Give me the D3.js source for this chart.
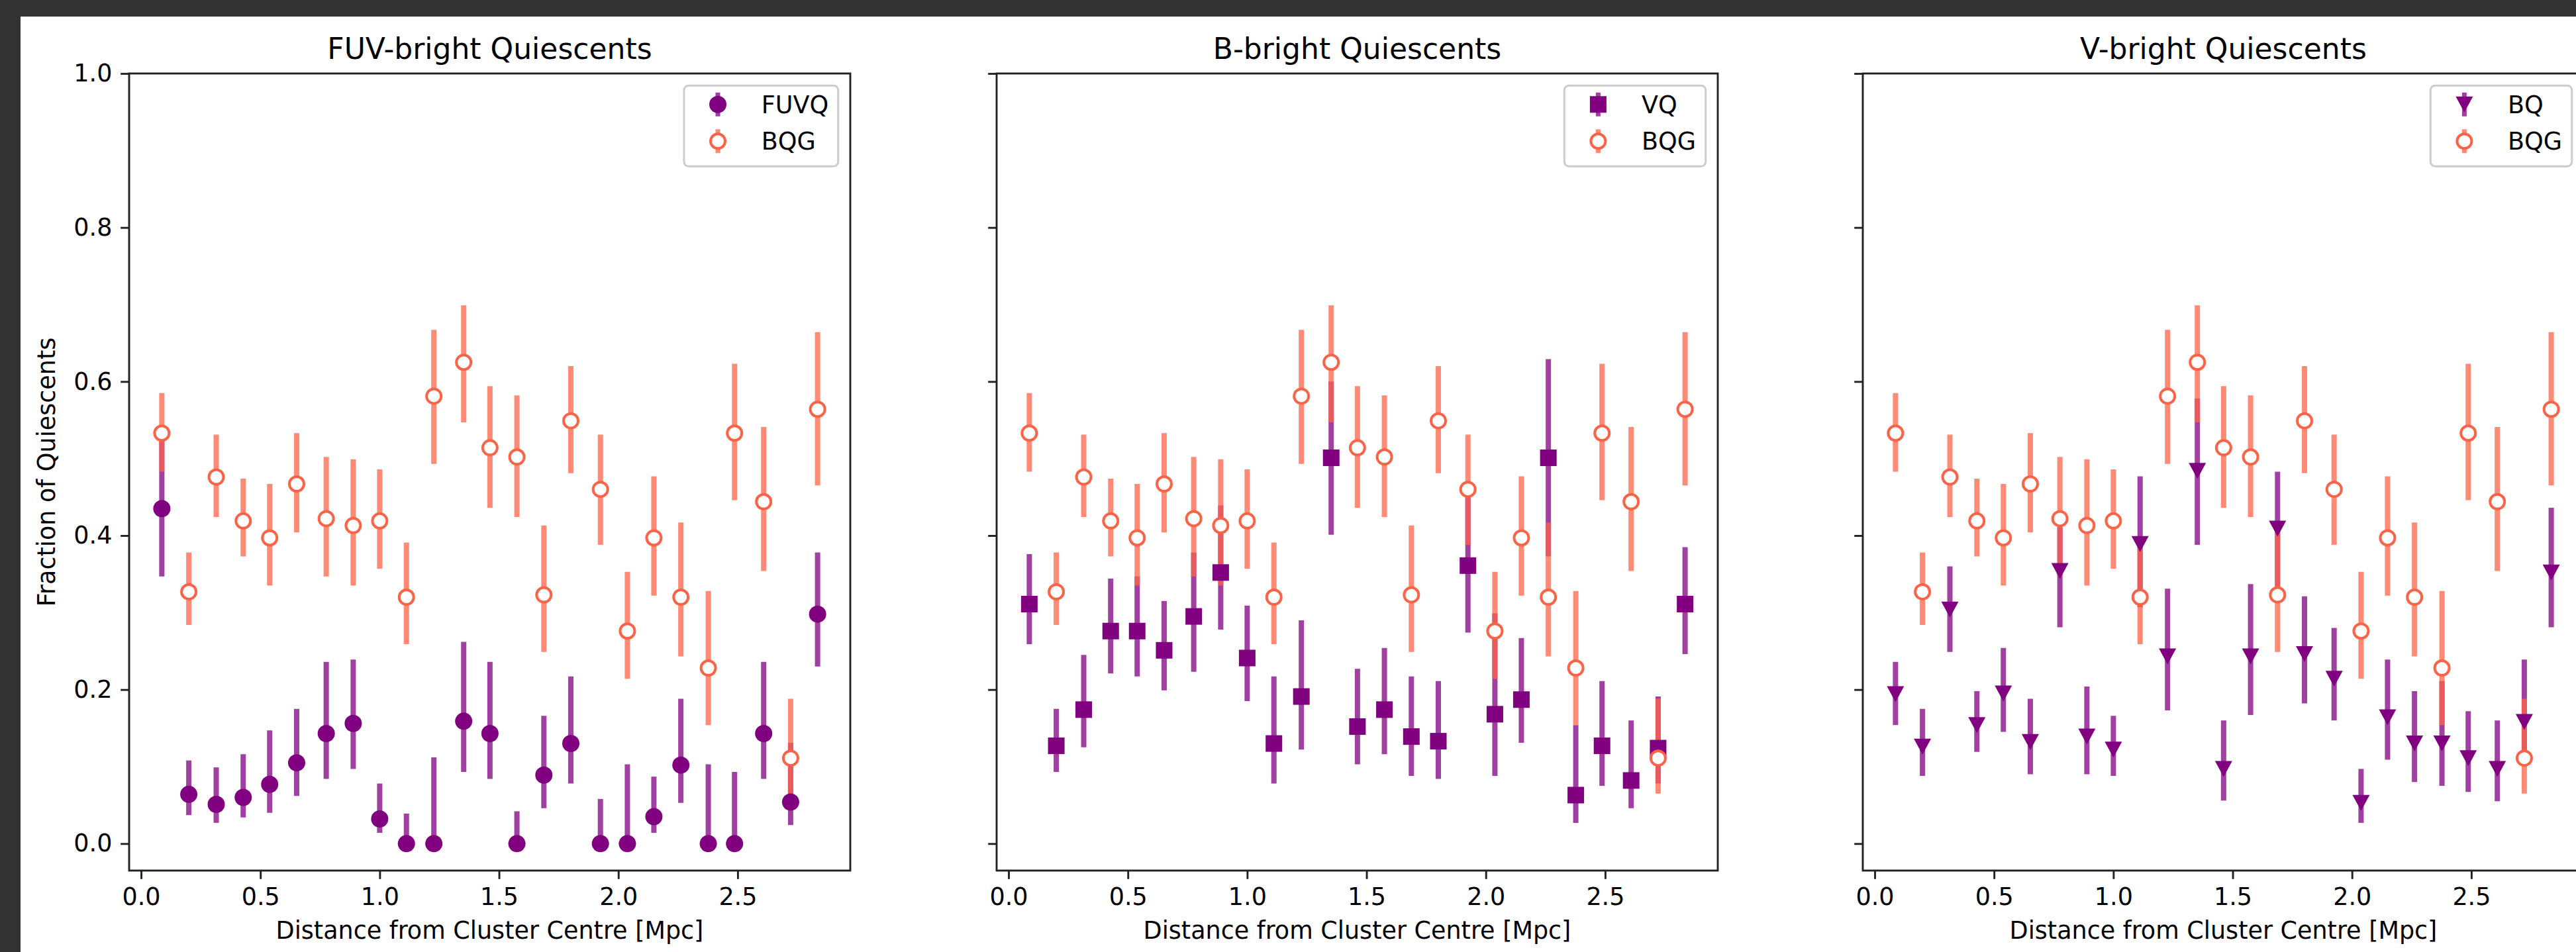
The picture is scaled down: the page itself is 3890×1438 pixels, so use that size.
<!DOCTYPE html>
<html>
<head>
<meta charset="utf-8">
<script src="https://cdn.jsdelivr.net/npm/d3@7"></script>
<style>
  html, body { margin: 0; padding: 0; background: #333; }
  svg { display: block; font-family: "DejaVu Sans", sans-serif; }
</style>
</head>
<body>
<svg id="chart"></svg>
<script>
// distance bins (Mpc), shared by every series
const distance = [0.087, 0.200, 0.315, 0.428, 0.539, 0.652, 0.776, 0.889, 1.000, 1.112,
  1.227, 1.352, 1.462, 1.575, 1.688, 1.801, 1.925, 2.038, 2.149, 2.262,
  2.377, 2.487, 2.609, 2.722, 2.835];

// BQG (same in all three panels): value, lower end, upper end of the bar
const bqg = [0.533, 0.327, 0.476, 0.419, 0.397, 0.467, 0.422, 0.413, 0.419, 0.320,
  0.581, 0.625, 0.514, 0.502, 0.323, 0.549, 0.460, 0.276, 0.397, 0.320,
  0.228, 0.533, 0.444, 0.111, 0.564];
const bqgLo = [0.483, 0.284, 0.424, 0.373, 0.335, 0.404, 0.347, 0.335, 0.357, 0.259,
  0.493, 0.547, 0.436, 0.424, 0.249, 0.481, 0.388, 0.214, 0.322, 0.243,
  0.154, 0.446, 0.354, 0.065, 0.465];
const bqgHi = [0.585, 0.378, 0.531, 0.474, 0.467, 0.533, 0.502, 0.499, 0.486, 0.391,
  0.667, 0.699, 0.594, 0.582, 0.413, 0.620, 0.531, 0.353, 0.477, 0.417,
  0.328, 0.623, 0.541, 0.188, 0.664];

// FUVQ
const fuvq = [0.435, 0.064, 0.051, 0.060, 0.077, 0.105, 0.143, 0.156, 0.032, 0.0,
  0.0, 0.159, 0.143, 0.0, 0.089, 0.130, 0.0, 0.0, 0.035, 0.102,
  0.0, 0.0, 0.143, 0.054, 0.298];
const fuvqLo = [0.347, 0.037, 0.027, 0.034, 0.040, 0.062, 0.084, 0.097, 0.014, 0.0,
  0.0, 0.093, 0.084, 0.0, 0.046, 0.078, 0.0, 0.0, 0.014, 0.053,
  0.0, 0.0, 0.084, 0.024, 0.230];
const fuvqHi = [0.525, 0.108, 0.099, 0.116, 0.147, 0.175, 0.236, 0.239, 0.078, 0.039,
  0.112, 0.262, 0.236, 0.042, 0.166, 0.217, 0.058, 0.103, 0.087, 0.188,
  0.103, 0.093, 0.236, 0.131, 0.378];

// VQ
const vq = [0.311, 0.127, 0.174, 0.276, 0.276, 0.251, 0.295, 0.352, 0.241, 0.130,
  0.191, 0.501, 0.152, 0.174, 0.139, 0.133, 0.361, 0.168, 0.187, 0.501,
  0.063, 0.127, 0.082, 0.124, 0.311];
const vqLo = [0.259, 0.093, 0.125, 0.221, 0.217, 0.199, 0.223, 0.278, 0.185, 0.078,
  0.122, 0.401, 0.103, 0.116, 0.088, 0.084, 0.274, 0.088, 0.131, 0.373,
  0.027, 0.075, 0.046, 0.078, 0.246];
const vqHi = [0.376, 0.175, 0.245, 0.344, 0.347, 0.315, 0.378, 0.439, 0.309, 0.217,
  0.290, 0.600, 0.227, 0.254, 0.217, 0.211, 0.450, 0.299, 0.267, 0.629,
  0.154, 0.211, 0.160, 0.191, 0.385];

// BQ
const bq = [0.194, 0.126, 0.304, 0.154, 0.195, 0.132, 0.354, 0.139, 0.122, 0.389,
  0.243, 0.484, 0.097, 0.243, 0.409, 0.246, 0.214, 0.053, 0.164, 0.130,
  0.130, 0.111, 0.097, 0.158, 0.352];
const bqLo = [0.154, 0.088, 0.249, 0.119, 0.145, 0.090, 0.281, 0.090, 0.088, 0.307,
  0.173, 0.388, 0.056, 0.167, 0.333, 0.182, 0.160, 0.027, 0.109, 0.080,
  0.075, 0.067, 0.055, 0.121, 0.281];
const bqHi = [0.236, 0.175, 0.360, 0.198, 0.254, 0.188, 0.411, 0.204, 0.166, 0.477,
  0.331, 0.578, 0.160, 0.337, 0.483, 0.321, 0.280, 0.097, 0.239, 0.198,
  0.211, 0.172, 0.160, 0.239, 0.436];

const titles = ["FUV-bright Quiescents", "B-bright Quiescents", "V-bright Quiescents"];
const labels = ["FUVQ", "VQ", "BQ"];
const xTicks = [0.0, 0.5, 1.0, 1.5, 2.0, 2.5];
const yTicks = [0.0, 0.2, 0.4, 0.6, 0.8, 1.0];

const panels = [
  { title: titles[0], label: labels[0], shape: "circle", v: fuvq, lo: fuvqLo, hi: fuvqHi },
  { title: titles[1], label: labels[1], shape: "square", v: vq, lo: vqLo, hi: vqHi },
  { title: titles[2], label: labels[2], shape: "triangle", v: bq, lo: bqLo, hi: bqHi },
];

const width = 3890;
const height = 1438;
const svg = d3.select("#chart").attr("width", width).attr("height", height);

// notebook frame
svg.append("rect").attr("width", width).attr("height", height).attr("fill", "#333");
svg.append("rect").attr("x", 31).attr("y", 25)
  .attr("width", width - 31).attr("height", height - 25).attr("fill", "#fff");

const axW = 1089, axTop = 111, axBottom = 1315;
const panelLeft = [195, 1505, 2813];
const em = 36.5; // 10pt at this scale
const PURPLE = "#800080", TOMATO = "#ff6347", INK = "#222";

const y = d3.scaleLinear().domain([-0.035, 1.0]).range([axBottom, axTop]);

function marker(sel, shape, cx, cy) {
  if (shape === "circle") {
    sel.append("circle").attr("cx", cx).attr("cy", cy).attr("r", 13).attr("fill", PURPLE);
  } else if (shape === "square") {
    sel.append("rect").attr("x", cx - 12.5).attr("y", cy - 12.5)
      .attr("width", 25).attr("height", 25).attr("fill", PURPLE);
  } else if (shape === "triangle") {
    sel.append("path").attr("d", `M${cx - 13},${cy - 12}L${cx + 13},${cy - 12}L${cx},${cy + 12}Z`)
      .attr("fill", PURPLE);
  } else {
    sel.append("circle").attr("cx", cx).attr("cy", cy).attr("r", 11)
      .attr("fill", "#fff").attr("stroke", TOMATO).attr("stroke-width", 4);
  }
}

panels.forEach((p, i) => {
  const left = panelLeft[i];
  const x = d3.scaleLinear().domain([-0.05, 2.972]).range([left, left + axW]);
  const g = svg.append("g");

  // error bars: quiescent series first, BQG on top
  g.append("g").selectAll("line")
    .data(distance)
    .join("line")
    .attr("x1", (d) => x(d)).attr("x2", (d) => x(d))
    .attr("y1", (d, k) => y(p.lo[k])).attr("y2", (d, k) => y(p.hi[k]))
    .attr("stroke", PURPLE).attr("stroke-opacity", 0.75).attr("stroke-width", 8);

  g.append("g").selectAll("line")
    .data(distance)
    .join("line")
    .attr("x1", (d) => x(d)).attr("x2", (d) => x(d))
    .attr("y1", (d, k) => y(bqgLo[k])).attr("y2", (d, k) => y(bqgHi[k]))
    .attr("stroke", TOMATO).attr("stroke-opacity", 0.75).attr("stroke-width", 8);

  const mq = g.append("g");
  distance.forEach((d, k) => marker(mq, p.shape, x(d), y(p.v[k])));
  const mb = g.append("g");
  distance.forEach((d, k) => marker(mb, "open", x(d), y(bqg[k])));

  // axes
  const xAxis = g.append("g")
    .attr("transform", `translate(0,${axBottom})`)
    .call(d3.axisBottom(x).tickValues(xTicks).tickFormat(d3.format(".1f"))
      .tickSize(12.8).tickPadding(12.8));
  const yAxis = g.append("g")
    .attr("transform", `translate(${left},0)`)
    .call(d3.axisLeft(y).tickValues(yTicks)
      .tickFormat(i === 0 ? d3.format(".1f") : () => "")
      .tickSize(12.8).tickPadding(12.8));
  [xAxis, yAxis].forEach((a) => {
    a.select(".domain").remove();
    a.selectAll(".tick line").attr("stroke", INK).attr("stroke-width", 2.9);
    a.selectAll(".tick text").attr("fill", "#000")
      .style("font-family", "DejaVu Sans").style("font-size", em + "px");
  });

  // spines
  g.append("rect")
    .attr("x", left).attr("y", axTop)
    .attr("width", axW).attr("height", axBottom - axTop)
    .attr("fill", "none").attr("stroke", INK).attr("stroke-width", 2.9);

  // title + x label
  g.append("text")
    .attr("x", left + axW / 2).attr("y", axTop - 22)
    .attr("text-anchor", "middle").attr("font-size", 44).attr("fill", "#000")
    .text(p.title);
  g.append("text")
    .attr("x", left + axW / 2).attr("y", 1418)
    .attr("text-anchor", "middle").attr("font-size", em).attr("fill", "#000")
    .text("Distance from Cluster Centre [Mpc]");

  if (i === 0) {
    g.append("text")
      .attr("transform", `translate(83,${(axTop + axBottom) / 2}) rotate(-90)`)
      .attr("text-anchor", "middle").attr("font-size", em).attr("fill", "#000")
      .text("Fraction of Quiescents");
  }

  // legend
  const entries = [{ label: p.label, shape: p.shape, color: PURPLE },
                   { label: "BQG", shape: "open", color: TOMATO }];
  const lg = g.append("g");
  const frame = lg.append("rect");
  const texts = entries.map((e) => lg.append("text")
    .attr("font-size", em).attr("fill", "#000").attr("dy", "0.35em").text(e.label));
  const textW = d3.max(texts, (t) => t.node().getComputedTextLength());
  const boxW = 2 * 0.4 * em + 2 * em + 0.8 * em + textW;
  const boxH = 122;
  const bx = left + axW - 0.5 * em - boxW;
  const by = axTop + 0.5 * em;
  frame.attr("x", bx).attr("y", by).attr("width", boxW).attr("height", boxH)
    .attr("rx", 7).attr("ry", 7)
    .attr("fill", "#fff").attr("fill-opacity", 0.8)
    .attr("stroke", "#ccc").attr("stroke-width", 3);
  entries.forEach((e, k) => {
    const ry = by + 28.5 + k * 55.5;
    const hx = bx + 0.4 * em + em;
    lg.append("line").attr("x1", hx).attr("x2", hx).attr("y1", ry - 18).attr("y2", ry + 18)
      .attr("stroke", e.color).attr("stroke-opacity", 0.75).attr("stroke-width", 7);
    marker(lg, e.shape, hx, ry);
    texts[k].attr("x", bx + 0.4 * em + 2 * em + 0.8 * em).attr("y", ry);
  });
});
</script>
</body>
</html>
